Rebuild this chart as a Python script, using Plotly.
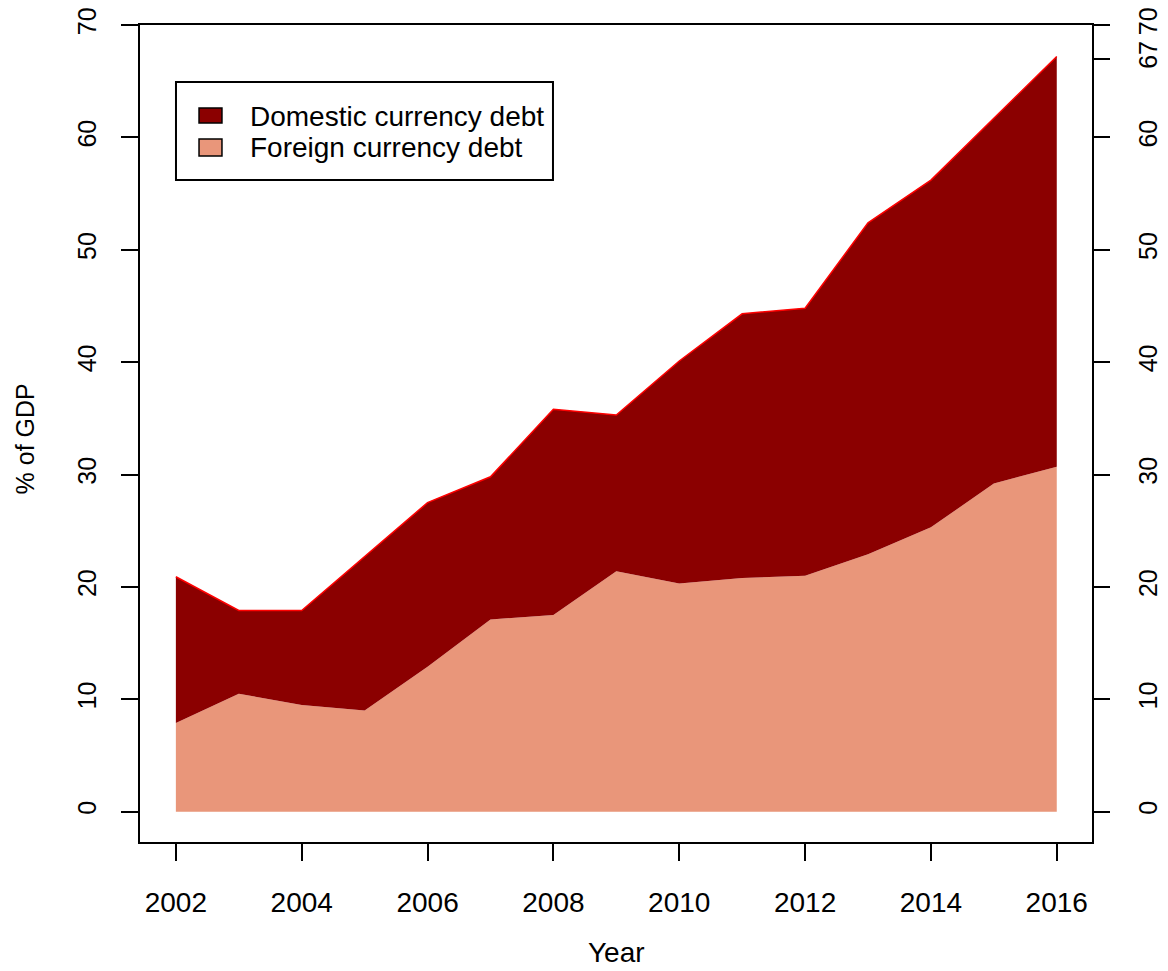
import plotly.graph_objects as go

# Public debt by currency of denomination, % of GDP
years = [2002, 2003, 2004, 2005, 2006, 2007, 2008, 2009, 2010,
         2011, 2012, 2013, 2014, 2015, 2016]
foreign_debt = [7.9, 10.5, 9.5, 9.0, 12.9, 17.1, 17.5, 21.4, 20.3,
                20.8, 21.0, 22.9, 25.3, 29.2, 30.7]
total_debt = [20.9, 17.9, 17.9, 22.7, 27.5, 29.8, 35.8, 35.3, 40.1,
              44.3, 44.8, 52.4, 56.2, 61.7, 67.2]
domestic_debt = [round(t - f, 2) for t, f in zip(total_debt, foreign_debt)]

x_ticks = [2002, 2004, 2006, 2008, 2010, 2012, 2014, 2016]
y_ticks = [0, 10, 20, 30, 40, 50, 60, 70]
last_total = round(total_debt[-1])

series_names = ["Domestic currency debt", "Foreign currency debt"]

DARK = "#8B0000"
SALMON = "#E9967A"
FONT = "Liberation Sans, Arial, sans-serif"

fig = go.Figure()

fig.add_trace(go.Scatter(
    x=years, y=foreign_debt, name=series_names[1], stackgroup="debt",
    mode="lines", line=dict(width=0, color=SALMON), fillcolor=SALMON,
    showlegend=False, hoverinfo="x+y",
))
fig.add_trace(go.Scatter(
    x=years, y=domestic_debt, name=series_names[0], stackgroup="debt",
    mode="lines", line=dict(width=1.5, color="#FF0000"), fillcolor=DARK,
    showlegend=False, hoverinfo="x+y",
))
# invisible trace carrying the right-hand axis
fig.add_trace(go.Scatter(
    x=[years[0]], y=[0], yaxis="y2", mode="markers",
    marker=dict(opacity=0), showlegend=False, hoverinfo="skip",
))

y_range = [-2.7, 70]
axis_common = dict(
    ticks="outside", ticklen=17, tickwidth=2, tickcolor="black",
    showgrid=False, zeroline=False, automargin=False,
)

fig.update_layout(
    width=1168, height=971,
    margin=dict(l=140, r=76, t=25, b=129, autoexpand=False),
    paper_bgcolor="white", plot_bgcolor="white",
    font=dict(family=FONT, color="black"),
    xaxis=dict(
        range=[2001.43, 2016.56], tickvals=x_ticks,
        ticktext=[str(v) for v in x_ticks],
        tickfont=dict(size=28), ticklabelstandoff=17,
        showline=True, linecolor="black", linewidth=2, mirror=True,
        **axis_common,
    ),
    yaxis=dict(
        range=y_range, tickvals=y_ticks,
        ticktext=[str(v) for v in y_ticks],
        tickangle=-90, tickfont=dict(size=25), ticklabelstandoff=15,
        showline=True, linecolor="black", linewidth=2, mirror=True,
        **axis_common,
    ),
    yaxis2=dict(
        range=y_range, overlaying="y", side="right",
        tickvals=y_ticks + [last_total],
        ticktext=[str(v) for v in y_ticks] + [str(last_total)],
        tickangle=-90, tickfont=dict(size=25), ticklabelstandoff=17,
        showline=False,
        **axis_common,
    ),
    showlegend=False,
)

# axis titles
fig.add_annotation(text="Year", xref="paper", yref="paper", x=0.5, y=-0.1355,
                   xanchor="center", yanchor="middle", showarrow=False,
                   font=dict(size=28, family=FONT, color="black"))
fig.add_annotation(text="% of GDP", xref="paper", yref="paper", x=-0.1208,
                   y=0.494, textangle=-90, xanchor="center", yanchor="middle",
                   showarrow=False, font=dict(size=25, family=FONT, color="black"))

# legend box with swatches
fig.add_shape(type="rect", xref="paper", yref="paper",
              x0=0.0378, x1=0.4338, y0=0.8103, y1=0.9302,
              line=dict(color="black", width=2), fillcolor="white")
legend_rows = [
    (series_names[0], DARK, 0.8801, 0.8984, 0.8880),
    (series_names[1], SALMON, 0.8397, 0.8605, 0.8506),
]
for label, color, sy0, sy1, ty in legend_rows:
    fig.add_shape(type="rect", xref="paper", yref="paper",
                  x0=0.0620, x1=0.0861, y0=sy0, y1=sy1,
                  line=dict(color="black", width=1.5), fillcolor=color)
    fig.add_annotation(text=label, xref="paper", yref="paper", x=0.1134, y=ty,
                       xanchor="left", yanchor="middle", showarrow=False,
                       font=dict(size=28, family=FONT, color="black"))

fig.write_html("out.html")
